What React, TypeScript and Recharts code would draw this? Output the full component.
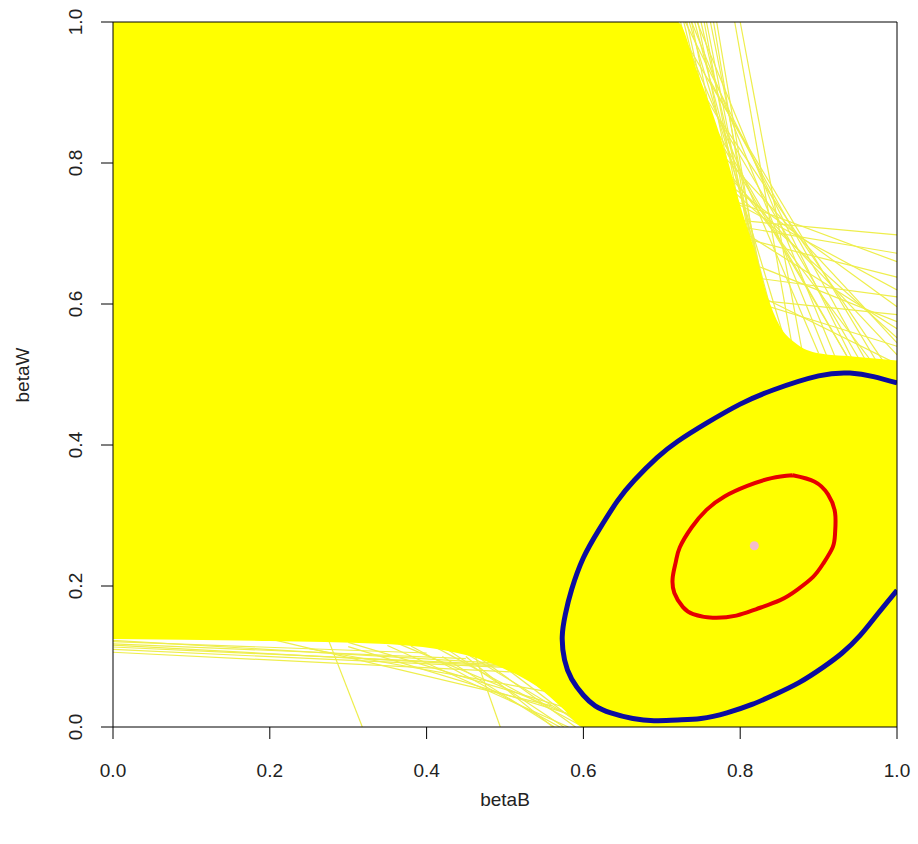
import React from 'react';
import { ComposedChart, Line, Area, Scatter, XAxis, YAxis, ReferenceArea, Label } from 'recharts';

const FONT = '"Liberation Sans", Arial, sans-serif';

const ticks = [0, 0.2, 0.4, 0.6, 0.8, 1];

// dense band of tomography lines: lower / upper edge by betaB
const fillX = [0, 0.2, 0.34, 0.45, 0.5, 0.54, 0.575, 0.6, 0.72, 0.745, 0.765, 0.785, 0.8, 0.82, 0.835, 0.85, 0.87, 0.9, 0.95, 1];
const fillLow = [0.125, 0.122, 0.118, 0.102, 0.082, 0.058, 0.025, 0, 0, 0, 0, 0, 0, 0, 0, 0, 0, 0, 0, 0];
const fillHigh = [1, 1, 1, 1, 1, 1, 1, 1, 1, 0.93, 0.87, 0.8, 0.74, 0.67, 0.61, 0.57, 0.545, 0.53, 0.525, 0.52];

// single tomography lines outside the dense band [betaB0, betaW0, betaB1, betaW1]
const topLines = [
  [0.8, 1, 0.888, 0.48],
  [0.793, 1, 0.876, 0.48],
  [0.77, 1, 0.85, 0.47],
  [0.766, 1, 0.842, 0.5],
  [0.762, 1, 0.848, 0.52],
  [0.757, 1, 0.855, 0.45],
  [0.754, 1, 0.83, 0.55],
  [0.75, 1, 0.868, 0.44],
  [0.746, 1, 0.84, 0.5],
  [0.742, 1, 0.88, 0.42],
  [0.738, 1, 0.82, 0.55],
  [0.735, 1, 0.87, 0.5],
  [0.732, 1, 0.81, 0.6],
  [0.728, 1, 0.835, 0.52],
  [0.724, 1, 0.8, 0.65],
  [0.745, 1, 0.96, 0.42],
  [0.738, 1, 0.92, 0.5],
  [0.73, 1, 0.975, 0.45],
  [0.72, 1, 0.9, 0.53],
  [0.715, 1, 1, 0.47],
  [0.7, 1, 1, 0.43],
  [0.76, 0.92, 1, 0.44],
  [0.775, 0.86, 1, 0.49],
  [0.69, 1, 0.96, 0.48],
  [0.78, 0.82, 0.95, 0.5],
  [0.79, 0.78, 0.98, 0.5],
  [0, 0.8, 1, 0.698],
  [0, 0.86, 1, 0.672],
  [0.3, 0.95, 1, 0.66],
  [0, 0.92, 1, 0.638],
  [0.4, 0.98, 1, 0.62],
  [0, 0.76, 1, 0.61],
  [0.5, 1, 1, 0.596],
  [0.2, 0.93, 1, 0.575],
  [0.55, 1, 1, 0.552],
  [0.1, 0.85, 1, 0.54],
  [0.6, 1, 1, 0.528],
  [0.3, 0.9, 1, 0.515],
  [0.45, 0.95, 1, 0.565],
  [0, 0.7, 1, 0.585],
  [0.62, 1, 1, 0.545],
];

const bottomLines = [
  [0, 0.106, 0.62, 0.072],
  [0, 0.11, 0.55, 0.082],
  [0, 0.1135, 0.5, 0.088],
  [0, 0.116, 0.6, 0.08],
  [0, 0.118, 0.45, 0.097],
  [0, 0.121, 0.4, 0.105],
  [0, 0.123, 0.5, 0.09],
  [0.2, 0.125, 0.56, 0.03],
  [0.3, 0.12, 0.6, 0.02],
  [0.25, 0.111, 0.55, 0.051],
  [0.3, 0.114, 0.636, 0],
  [0.35, 0.1155, 0.581, 0],
  [0.38, 0.115, 0.57, 0],
  [0.36, 0.12, 0.62, 0],
  [0.4, 0.12, 0.6, 0],
  [0.42, 0.1, 0.563, 0],
  [0.45, 0.1, 0.561, 0],
  [0.42, 0.115, 0.575, 0],
  [0.43, 0.118, 0.605, 0],
  [0.44, 0.12, 0.59, 0],
  [0.47, 0.11, 0.6, 0],
  [0.48, 0.11, 0.612, 0],
  [0.5, 0.1, 0.625, 0],
  [0.46, 0.12, 0.635, 0],
  [0.5, 0.105, 0.64, 0],
  [0.52, 0.09, 0.62, 0],
  [0.22, 0.28, 0.318, 0],
  [0.44, 0.17, 0.494, 0],
];

// outer contour (blue)
const blueB = [1, 0.97, 0.94, 0.9, 0.842, 0.8, 0.757, 0.72, 0.694, 0.665, 0.643, 0.62, 0.6, 0.585, 0.577, 0.573, 0.576, 0.585, 0.6, 0.615, 0.635, 0.663, 0.69, 0.72, 0.75, 0.783, 0.815, 0.842, 0.875, 0.906, 0.93, 0.953, 0.975, 1];
const blueW = [0.488, 0.497, 0.502, 0.498, 0.478, 0.458, 0.431, 0.405, 0.382, 0.35, 0.32, 0.28, 0.24, 0.195, 0.16, 0.128, 0.095, 0.068, 0.045, 0.03, 0.02, 0.012, 0.009, 0.01, 0.012, 0.02, 0.032, 0.045, 0.063, 0.085, 0.105, 0.13, 0.16, 0.194];

// inner contour (red)
const redB = [0.867, 0.895, 0.912, 0.921, 0.921, 0.918, 0.906, 0.893, 0.873, 0.851, 0.82, 0.795, 0.765, 0.74, 0.727, 0.716, 0.714, 0.718, 0.723, 0.738, 0.757, 0.78, 0.809, 0.84, 0.867];
const redW = [0.357, 0.348, 0.33, 0.304, 0.275, 0.255, 0.232, 0.213, 0.195, 0.18, 0.167, 0.158, 0.155, 0.16, 0.17, 0.19, 0.213, 0.235, 0.255, 0.283, 0.308, 0.327, 0.342, 0.353, 0.357];

const modeB = [0.818];
const modeW = [0.257];

const toPts = (xs: number[], ys: number[]) => xs.map((x, i) => ({ x, y: ys[i] }));
const fillData = fillX.map((x, i) => ({ x, range: [fillLow[i], fillHigh[i]] }));
const segs = [...bottomLines, ...topLines].map(([x0, y0, x1, y1]) => [
  { x: x0, y: y0 },
  { x: x1, y: y1 },
]);

const YTick = (props: any) => {
  const { x, y, payload } = props;
  const cx = x - 2;
  return (
    <text x={cx} y={y} dy="0.35em" textAnchor="middle" transform={`rotate(-90 ${cx} ${y})`} fontSize={19} fontFamily={FONT} fill="#222">
      {Number(payload.value).toFixed(1)}
    </text>
  );
};

export default function App() {
  return (
    <div style={{ position: 'absolute', left: 0, top: 0, background: '#fff' }}>
      <ComposedChart width={918} height={844} margin={{ top: 22, right: 21, bottom: 57, left: 53 }}>
        <XAxis
          type="number"
          dataKey="x"
          domain={[0, 1]}
          ticks={ticks}
          interval={0}
          allowDataOverflow
          height={60}
          tickSize={12}
          tickMargin={25}
          axisLine={false}
          tickLine={{ stroke: '#000' }}
          tick={{ fontSize: 19, fill: '#222', fontFamily: FONT }}
          tickFormatter={(v: number) => v.toFixed(1)}
        >
          <Label
            content={() => (
              <text x={505} y={806} textAnchor="middle" fontSize={19} fontFamily={FONT} fill="#222">
                betaB
              </text>
            )}
          />
        </XAxis>
        <YAxis
          type="number"
          domain={[0, 1]}
          ticks={ticks}
          interval={0}
          allowDataOverflow
          width={60}
          tickSize={12}
          tickMargin={24}
          axisLine={false}
          tickLine={{ stroke: '#000' }}
          tick={<YTick />}
        >
          <Label
            content={() => (
              <text x={22} y={375} dy="0.35em" textAnchor="middle" transform="rotate(-90 22 375)" fontSize={19} fontFamily={FONT} fill="#222">
                betaW
              </text>
            )}
          />
        </YAxis>

        {segs.map((d, i) => (
          <Line
            key={'seg' + i}
            data={d}
            dataKey="y"
            type="linear"
            stroke="#eeee4c"
            strokeWidth={1.2}
            dot={false}
            activeDot={false}
            legendType="none"
            isAnimationActive={false}
          />
        ))}

        <Area
          data={fillData}
          dataKey="range"
          type="monotone"
          stroke="none"
          fill="#ffff00"
          fillOpacity={1}
          isAnimationActive={false}
          zIndex={450}
        />

        <Line
          data={toPts(blueB, blueW)}
          dataKey="y"
          type="natural"
          stroke="#0c0ca0"
          strokeWidth={5}
          dot={false}
          activeDot={false}
          isAnimationActive={false}
          zIndex={500}
        />
        <Line
          data={toPts(redB, redW)}
          dataKey="y"
          type="natural"
          stroke="#e60000"
          strokeWidth={4}
          dot={false}
          activeDot={false}
          isAnimationActive={false}
          zIndex={500}
        />
        <Scatter data={toPts(modeB, modeW)} dataKey="y" fill="#f5bccb" shape="circle" isAnimationActive={false} />

        <ReferenceArea x1={0} x2={1} y1={0} y2={1} fill="none" fillOpacity={0} stroke="#000" strokeWidth={1} ifOverflow="visible" zIndex={700} />
      </ComposedChart>
    </div>
  );
}
